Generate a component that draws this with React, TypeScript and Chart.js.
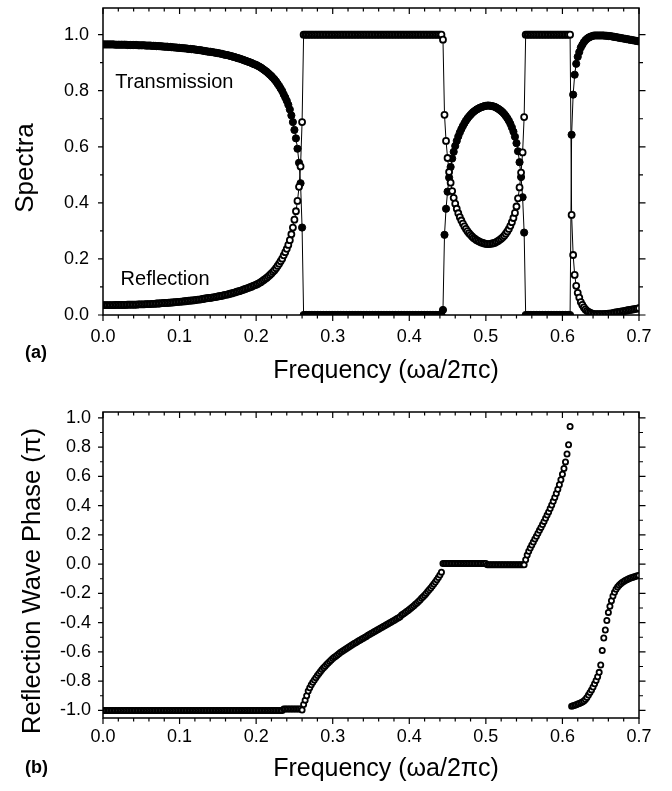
import React, { useEffect, useRef } from "react";
import { Chart, registerables } from "chart.js";

Chart.register(...registerables);

const FONT = "'Liberation Sans', Arial, Helvetica, sans-serif";

// Sampling of the computed spectra (normalized frequency ωa/2πc)
const FREQ_STEP = 0.002;
// start frequency of each segment: band 1, gap 1, band 2, gap 2, band 3
const SEGMENT_STARTS = [0.0, 0.262, 0.444, 0.552, 0.612];

const X_TICKS = [0, 0.1, 0.2, 0.3, 0.4, 0.5, 0.6, 0.7];
const X_TICK_LABELS = ["0.0", "0.1", "0.2", "0.3", "0.4", "0.5", "0.6", "0.7"];
const SPECTRA_TICKS = [0, 0.2, 0.4, 0.6, 0.8, 1.0];
const SPECTRA_TICK_LABELS = ["0.0", "0.2", "0.4", "0.6", "0.8", "1.0"];
const PHASE_TICKS = [-1, -0.8, -0.6, -0.4, -0.2, 0, 0.2, 0.4, 0.6, 0.8, 1];
const PHASE_TICK_LABELS = ["-1.0", "-0.8", "-0.6", "-0.4", "-0.2", "0.0", "0.2", "0.4", "0.6", "0.8", "1.0"];

// ---------- Transmission ----------
const transBand1 = [
  0.965, 0.965, 0.965, 0.965, 0.965, 0.965, 0.965, 0.965, 0.964, 0.964,
  0.964, 0.964, 0.964, 0.964, 0.964, 0.964, 0.963, 0.963, 0.963, 0.963,
  0.963, 0.963, 0.963, 0.962, 0.962, 0.962, 0.962, 0.962, 0.961, 0.961,
  0.961, 0.961, 0.960, 0.960, 0.960, 0.959, 0.959, 0.959, 0.958, 0.958,
  0.957, 0.957, 0.957, 0.956, 0.956, 0.955, 0.955, 0.954, 0.954, 0.953,
  0.953, 0.952, 0.952, 0.951, 0.951, 0.950, 0.949, 0.949, 0.948, 0.948,
  0.947, 0.946, 0.945, 0.945, 0.944, 0.943, 0.942, 0.941, 0.940, 0.939,
  0.939, 0.938, 0.937, 0.936, 0.935, 0.934, 0.933, 0.932, 0.931, 0.929,
  0.928, 0.927, 0.926, 0.924, 0.923, 0.921, 0.920, 0.918, 0.916, 0.915,
  0.913, 0.911, 0.909, 0.907, 0.905, 0.903, 0.901, 0.899, 0.896, 0.894,
  0.892, 0.889, 0.886, 0.883, 0.879, 0.875, 0.871, 0.867, 0.862, 0.857,
  0.852, 0.846, 0.840, 0.833, 0.825, 0.817, 0.808, 0.799, 0.787, 0.776,
  0.764, 0.750, 0.733, 0.712, 0.688, 0.660, 0.630, 0.593, 0.543, 0.470,
  0.312,
];
const transGap1 = [
  0, 0, 0, 0, 0, 0, 0, 0, 0, 0, 0, 0, 0, 0, 0, 0, 0, 0, 0, 0,
  0, 0, 0, 0, 0, 0, 0, 0, 0, 0, 0, 0, 0, 0, 0, 0, 0, 0, 0, 0,
  0, 0, 0, 0, 0, 0, 0, 0, 0, 0, 0, 0, 0, 0, 0, 0, 0, 0, 0, 0,
  0, 0, 0, 0, 0, 0, 0, 0, 0, 0, 0, 0, 0, 0, 0, 0, 0, 0, 0, 0,
  0, 0, 0, 0, 0, 0, 0, 0, 0, 0, 0,
];
const transBand2 = [
  0.018, 0.286, 0.379, 0.440, 0.490, 0.528, 0.558, 0.582, 0.603, 0.621,
  0.637, 0.651, 0.663, 0.674, 0.684, 0.693, 0.701, 0.708, 0.714, 0.720,
  0.725, 0.729, 0.733, 0.736, 0.739, 0.741, 0.743, 0.745, 0.746, 0.747,
  0.747, 0.746, 0.745, 0.744, 0.742, 0.739, 0.736, 0.732, 0.728, 0.723,
  0.717, 0.710, 0.702, 0.693, 0.682, 0.669, 0.654, 0.636, 0.613, 0.584,
  0.545, 0.492, 0.420, 0.294,
];
const transGap2 = [
  0, 0, 0, 0, 0, 0, 0, 0, 0, 0, 0, 0, 0, 0, 0,
  0, 0, 0, 0, 0, 0, 0, 0, 0, 0, 0, 0, 0, 0, 0,
];
const transBand3 = [
  0.643, 0.786, 0.857, 0.896, 0.921, 0.938, 0.954, 0.964, 0.973, 0.980,
  0.985, 0.989, 0.992, 0.994, 0.996, 0.997, 0.997, 0.997, 0.997, 0.997,
  0.997, 0.997, 0.996, 0.996, 0.995, 0.995, 0.994, 0.993, 0.992, 0.991,
  0.990, 0.989, 0.988, 0.987, 0.986, 0.985, 0.984, 0.983, 0.982, 0.981,
  0.980, 0.979, 0.978, 0.977, 0.976,
];

// ---------- Reflection ----------
const reflBand1 = [
  0.035, 0.035, 0.035, 0.035, 0.035, 0.035, 0.035, 0.035, 0.036, 0.036,
  0.036, 0.036, 0.036, 0.036, 0.036, 0.036, 0.037, 0.037, 0.037, 0.037,
  0.037, 0.037, 0.037, 0.038, 0.038, 0.038, 0.038, 0.038, 0.039, 0.039,
  0.039, 0.039, 0.040, 0.040, 0.040, 0.041, 0.041, 0.041, 0.042, 0.042,
  0.043, 0.043, 0.043, 0.044, 0.044, 0.045, 0.045, 0.046, 0.046, 0.047,
  0.047, 0.048, 0.048, 0.049, 0.049, 0.050, 0.051, 0.051, 0.052, 0.052,
  0.053, 0.054, 0.055, 0.055, 0.056, 0.057, 0.058, 0.059, 0.060, 0.061,
  0.061, 0.062, 0.063, 0.064, 0.065, 0.066, 0.067, 0.068, 0.069, 0.071,
  0.072, 0.073, 0.074, 0.076, 0.077, 0.079, 0.080, 0.082, 0.084, 0.085,
  0.087, 0.089, 0.091, 0.093, 0.095, 0.097, 0.099, 0.101, 0.104, 0.106,
  0.108, 0.111, 0.114, 0.117, 0.121, 0.125, 0.129, 0.133, 0.138, 0.143,
  0.148, 0.154, 0.160, 0.167, 0.175, 0.183, 0.192, 0.201, 0.213, 0.224,
  0.236, 0.250, 0.267, 0.288, 0.312, 0.340, 0.370, 0.407, 0.457, 0.530,
  0.688,
];
const reflGap1 = [
  1, 1, 1, 1, 1, 1, 1, 1, 1, 1, 1, 1, 1, 1, 1, 1, 1, 1, 1, 1,
  1, 1, 1, 1, 1, 1, 1, 1, 1, 1, 1, 1, 1, 1, 1, 1, 1, 1, 1, 1,
  1, 1, 1, 1, 1, 1, 1, 1, 1, 1, 1, 1, 1, 1, 1, 1, 1, 1, 1, 1,
  1, 1, 1, 1, 1, 1, 1, 1, 1, 1, 1, 1, 1, 1, 1, 1, 1, 1, 1, 1,
  1, 1, 1, 1, 1, 1, 1, 1, 1, 1, 1,
];
const reflBand2 = [
  0.982, 0.714, 0.621, 0.560, 0.510, 0.472, 0.442, 0.418, 0.397, 0.379,
  0.363, 0.349, 0.337, 0.326, 0.316, 0.307, 0.299, 0.292, 0.286, 0.280,
  0.275, 0.271, 0.267, 0.264, 0.261, 0.259, 0.257, 0.255, 0.254, 0.253,
  0.253, 0.254, 0.255, 0.256, 0.258, 0.261, 0.264, 0.268, 0.272, 0.277,
  0.283, 0.290, 0.298, 0.307, 0.318, 0.331, 0.346, 0.364, 0.387, 0.416,
  0.455, 0.508, 0.580, 0.706,
];
const reflGap2 = [
  1, 1, 1, 1, 1, 1, 1, 1, 1, 1, 1, 1, 1, 1, 1,
  1, 1, 1, 1, 1, 1, 1, 1, 1, 1, 1, 1, 1, 1, 1,
];
const reflBand3 = [
  0.357, 0.214, 0.143, 0.104, 0.079, 0.062, 0.046, 0.036, 0.027, 0.020,
  0.015, 0.011, 0.008, 0.006, 0.004, 0.003, 0.003, 0.003, 0.003, 0.003,
  0.003, 0.003, 0.004, 0.004, 0.005, 0.005, 0.006, 0.007, 0.008, 0.009,
  0.010, 0.011, 0.012, 0.013, 0.014, 0.015, 0.016, 0.017, 0.018, 0.019,
  0.020, 0.021, 0.022, 0.023, 0.024,
];

// ---------- Reflection wave phase (units of π) ----------
const phaseBand1 = [
  -1, -1, -1, -1, -1, -1, -1, -1, -1, -1,
  -1, -1, -1, -1, -1, -1, -1, -1, -1, -1,
  -1, -1, -1, -1, -1, -1, -1, -1, -1, -1,
  -1, -1, -1, -1, -1, -1, -1, -1, -1, -1,
  -1, -1, -1, -1, -1, -1, -1, -1, -1, -1,
  -1, -1, -1, -1, -1, -1, -1, -1, -1, -1,
  -1, -1, -1, -1, -1, -1, -1, -1, -1, -1,
  -1, -1, -1, -1, -1, -1, -1, -1, -1, -1,
  -1, -1, -1, -1, -1, -1, -1, -1, -1, -1,
  -1, -1, -1, -1, -1, -1, -1, -1, -1, -1,
  -1, -1, -1, -1, -1, -1, -1, -1, -1, -1,
  -1, -1, -1, -1, -1, -1, -1, -1, -0.99, -0.99,
  -0.99, -0.99, -0.99, -0.99, -0.99, -0.99, -0.99, -0.99, -0.99, -0.99,
  -0.997,
];
const phaseRise1 = [
  -0.960, -0.930, -0.900, -0.868, -0.845, -0.825, -0.808, -0.792, -0.776, -0.761,
  -0.747, -0.734, -0.721, -0.709, -0.698, -0.687, -0.676, -0.665, -0.655, -0.645,
  -0.637, -0.629, -0.621, -0.613, -0.605, -0.598, -0.591, -0.584, -0.577, -0.570,
  -0.563, -0.556, -0.550, -0.543, -0.537, -0.531, -0.524, -0.518, -0.512, -0.506,
  -0.500, -0.494, -0.487, -0.481, -0.475, -0.469, -0.463, -0.457, -0.451, -0.445,
  -0.439, -0.433, -0.427, -0.421, -0.415, -0.409, -0.403, -0.397, -0.391, -0.385,
  -0.379, -0.372, -0.366, -0.359, -0.348, -0.341, -0.334, -0.326, -0.318, -0.310,
  -0.302, -0.293, -0.284, -0.275, -0.265, -0.255, -0.245, -0.234, -0.223, -0.212,
  -0.200, -0.188, -0.176, -0.163, -0.150, -0.136, -0.122, -0.107, -0.092, -0.075,
  -0.055,
];
const phaseFlat = [
  0.004, 0.004, 0.004, 0.004, 0.004, 0.004, 0.004, 0.004, 0.004, 0.004,
  0.004, 0.004, 0.004, 0.004, 0.004, 0.004, 0.004, 0.004, 0.004, 0.004,
  0.004, 0.004, 0.004, 0.004, 0.004, 0.004, 0.004, 0.004, 0.004,
  -0.005, -0.005, -0.005, -0.005, -0.005, -0.005, -0.005, -0.005, -0.005, -0.005,
  -0.005, -0.005, -0.005, -0.005, -0.005, -0.005, -0.005, -0.005, -0.005, -0.005,
  -0.005, -0.005, -0.005, -0.005, -0.005,
];
const phaseRise2 = [
  0.030, 0.062, 0.088, 0.110, 0.131, 0.151, 0.171, 0.191, 0.211, 0.231,
  0.251, 0.271, 0.292, 0.313, 0.335, 0.357, 0.380, 0.404, 0.429, 0.455,
  0.483, 0.512, 0.543, 0.577, 0.614, 0.654, 0.699, 0.753, 0.816, 0.941,
];
const phaseLower = [
  -0.972, -0.968, -0.965, -0.961, -0.957, -0.953, -0.948, -0.942, -0.935, -0.925,
  -0.911, -0.895, -0.878, -0.860, -0.840, -0.818, -0.795, -0.770, -0.740, -0.690,
  -0.590, -0.505, -0.450, -0.385, -0.330, -0.288, -0.250, -0.218, -0.192, -0.172,
  -0.157, -0.145, -0.135, -0.126, -0.118, -0.112, -0.106, -0.101, -0.097, -0.093,
  -0.089, -0.086, -0.083, -0.080, -0.077,
];

function buildPoints(segments: number[][]) {
  const pts: { x: number; y: number }[] = [];
  segments.forEach((vals, s) => {
    vals.forEach((v, i) => {
      pts.push({ x: Math.round((SEGMENT_STARTS[s] + i * FREQ_STEP) * 1000) / 1000, y: v });
    });
  });
  return pts;
}

function makeFramePlugin(yMinorStart: number, yMinorCount: number) {
  return {
    id: "frameTicks",
    afterDraw(chart: any) {
      const { ctx, chartArea } = chart;
      const { left, right, top, bottom } = chartArea;
      const xs = chart.scales.x;
      const ys = chart.scales.y;
      ctx.save();
      ctx.strokeStyle = "#000";
      ctx.lineWidth = 1.5;
      ctx.strokeRect(left, top, right - left, bottom - top);
      ctx.lineWidth = 1.2;
      ctx.beginPath();
      for (let k = 0; k <= 35; k++) {
        const px = xs.getPixelForValue(k * 0.02);
        const major = k % 5 === 0;
        const L = major ? 6 : 3.5;
        ctx.moveTo(px, bottom);
        ctx.lineTo(px, bottom + L);
        ctx.moveTo(px, top);
        ctx.lineTo(px, top + L);
      }
      for (let k = 0; k < yMinorCount; k++) {
        const v = yMinorStart + k * 0.1;
        const py = ys.getPixelForValue(v);
        const major = k % 2 === 0;
        ctx.moveTo(left - (major ? 5 : 3), py);
        ctx.lineTo(left, py);
        ctx.moveTo(right, py);
        ctx.lineTo(right + (major ? 6.5 : 4), py);
      }
      ctx.stroke();
      ctx.restore();
    },
  };
}

type TextItem = {
  text: string;
  x: number;
  y: number;
  font: string;
  align?: CanvasTextAlign;
  rotate?: boolean;
  data?: boolean;
};

function makeTextPlugin(items: TextItem[]) {
  return {
    id: "texts",
    afterDraw(chart: any) {
      const ctx = chart.ctx;
      items.forEach((it) => {
        let x = it.x;
        let y = it.y;
        if (it.data) {
          x = chart.scales.x.getPixelForValue(it.x);
          y = chart.scales.y.getPixelForValue(it.y);
        }
        ctx.save();
        ctx.fillStyle = "#000";
        ctx.font = it.font;
        ctx.textAlign = it.align || "left";
        ctx.textBaseline = "alphabetic";
        ctx.translate(x, y);
        if (it.rotate) ctx.rotate(-Math.PI / 2);
        ctx.fillText(it.text, 0, 0);
        ctx.restore();
      });
    },
  };
}

function axisX(labels: string[], pad: number, height: number) {
  return {
    type: "linear",
    min: 0,
    max: 0.7,
    afterBuildTicks: (s: any) => {
      s.ticks = X_TICKS.map((v) => ({ value: v }));
    },
    afterFit: (s: any) => {
      s.height = height;
      s.paddingLeft = 0;
      s.paddingRight = 0;
    },
    ticks: {
      callback: (_v: any, i: number) => labels[i],
      color: "#000",
      font: { family: FONT, size: 18 },
      padding: pad,
      maxRotation: 0,
      autoSkip: false,
    },
    grid: { display: false, drawTicks: false },
    border: { display: false },
  };
}

function axisY(min: number, max: number, ticks: number[], labels: string[], pad: number) {
  return {
    type: "linear",
    min,
    max,
    afterBuildTicks: (s: any) => {
      s.ticks = ticks.map((v) => ({ value: v }));
    },
    afterFit: (s: any) => {
      s.width = 103;
      s.paddingTop = 0;
      s.paddingBottom = 0;
    },
    ticks: {
      callback: (_v: any, i: number) => labels[i],
      color: "#000",
      font: { family: FONT, size: 18 },
      padding: pad,
      autoSkip: false,
    },
    grid: { display: false, drawTicks: false },
    border: { display: false },
  };
}

export default function App() {
  const refA = useRef<HTMLCanvasElement>(null);
  const refB = useRef<HTMLCanvasElement>(null);

  useEffect(() => {
    Chart.defaults.font.family = FONT;
    Chart.defaults.color = "#000";

    const transmission = buildPoints([transBand1, transGap1, transBand2, transGap2, transBand3]);
    const reflection = buildPoints([reflBand1, reflGap1, reflBand2, reflGap2, reflBand3]);
    const phase = buildPoints([phaseBand1, phaseRise1, phaseFlat, phaseRise2, phaseLower]);

    const chartA = new Chart(refA.current as HTMLCanvasElement, {
      type: "scatter",
      data: {
        datasets: [
          {
            label: "Reflection",
            data: reflection,
            showLine: true,
            borderColor: "#000",
            borderWidth: 1,
            pointRadius: 3,
            pointBorderWidth: 1.8,
            pointBackgroundColor: "#fff",
            pointBorderColor: "#000",
            order: 0,
            clip: 0,
          },
          {
            label: "Transmission",
            data: transmission,
            showLine: true,
            borderColor: "#000",
            borderWidth: 1,
            pointRadius: 3.6,
            pointBorderWidth: 1,
            pointBackgroundColor: "#000",
            pointBorderColor: "#000",
            order: 1,
            clip: 0,
          },
        ],
      } as any,
      options: {
        responsive: false,
        animation: false,
        events: [],
        layout: { padding: { top: 8, right: 33, left: 0, bottom: 0 } },
        plugins: { legend: { display: false }, tooltip: { enabled: false } },
        scales: {
          x: axisX(X_TICK_LABELS, 11, 80),
          y: axisY(0, 1.095, SPECTRA_TICKS, SPECTRA_TICK_LABELS, 14),
        } as any,
      },
      plugins: [
        makeFramePlugin(0, 11),
        makeTextPlugin([
          { text: "(a)", x: 25, y: 358, font: `bold 18px ${FONT}` },
          { text: "Frequency (ωa/2πc)", x: 386, y: 378, font: `25px ${FONT}`, align: "center" },
          { text: "Spectra", x: 33, y: 168, font: `26px ${FONT}`, align: "center", rotate: true },
          { text: "Transmission", x: 0.016, y: 0.81, font: `20px ${FONT}`, data: true },
          { text: "Reflection", x: 0.023, y: 0.107, font: `20px ${FONT}`, data: true },
        ]),
      ],
    });

    const chartB = new Chart(refB.current as HTMLCanvasElement, {
      type: "scatter",
      data: {
        datasets: [
          {
            label: "Reflection Wave Phase",
            data: phase,
            showLine: false,
            pointRadius: 2.6,
            pointBorderWidth: 1.8,
            pointBackgroundColor: "#fff",
            pointBorderColor: "#000",
            clip: 0,
          },
        ],
      } as any,
      options: {
        responsive: false,
        animation: false,
        events: [],
        layout: { padding: { top: 17, right: 33, left: 0, bottom: 0 } },
        plugins: { legend: { display: false }, tooltip: { enabled: false } },
        scales: {
          x: axisX(X_TICK_LABELS, 8, 73),
          y: axisY(-1.052, 1.04, PHASE_TICKS, PHASE_TICK_LABELS, 12),
        } as any,
      },
      plugins: [
        makeFramePlugin(-1, 21),
        makeTextPlugin([
          { text: "(b)", x: 25, y: 378, font: `bold 18px ${FONT}` },
          { text: "Frequency (ωa/2πc)", x: 386, y: 381, font: `25px ${FONT}`, align: "center" },
          { text: "Reflection Wave Phase (π)", x: 40, y: 186, font: `25.5px ${FONT}`, align: "center", rotate: true },
        ]),
      ],
    });

    return () => {
      chartA.destroy();
      chartB.destroy();
    };
  }, []);

  return (
    <div style={{ position: "absolute", left: 0, top: 0, width: 672, height: 791, background: "#fff" }}>
      <canvas ref={refA} width={672} height={395} style={{ position: "absolute", left: 0, top: 0, display: "block" }} />
      <canvas ref={refB} width={672} height={396} style={{ position: "absolute", left: 0, top: 395, display: "block" }} />
    </div>
  );
}
